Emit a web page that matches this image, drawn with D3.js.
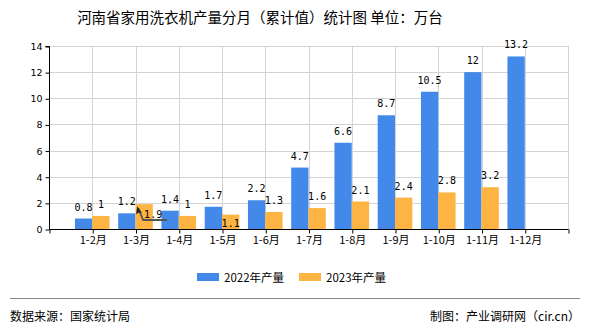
<!DOCTYPE html>
<html><head><meta charset="utf-8">
<script src="https://cdn.jsdelivr.net/npm/d3@7/dist/d3.min.js"></script>
<style>
html,body{margin:0;padding:0;background:#fff;}
text{font-family:"Noto Sans CJK SC","DejaVu Sans",sans-serif;}
text.val{font-family:"DejaVu Sans Mono",monospace;font-size:10px;}
</style></head>
<body>
<svg id="chart" width="590" height="330"></svg>
<script>
const categories = ["1-2月","1-3月","1-4月","1-5月","1-6月","1-7月","1-8月","1-9月","1-10月","1-11月","1-12月"];
const series2022 = [0.8,1.2,1.4,1.7,2.2,4.7,6.6,8.7,10.5,12,13.2];
const series2023 = [1,1.9,1,1.1,1.3,1.6,2.1,2.4,2.8,3.2,null];
const seriesNames = ["2022年产量","2023年产量"];
const colors = ["#4289ea","#fdb443"];
const yTicks = [0,2,4,6,8,10,12,14];
const title = "河南省家用洗衣机产量分月（累计值）统计图 单位：万台";
const source = "数据来源：国家统计局";
const credit = "制图：产业调研网（cir.cn）";

const svg = d3.select("#chart");
const pLeft = 49, pRight = 568, pTop = 46, pBottom = 229;

// positions: index 0 and 12 are empty slots at the ends
const slots = d3.range(categories.length + 2);
const x = d3.scalePoint().domain(slots).range([pLeft, pRight]);
const step = x.step();
const barW = step * 0.4;
const y = d3.scaleLinear().domain([0, 14]).range([pBottom, pTop]);

// title
svg.append("text").attr("x", 260).attr("y", 23).attr("text-anchor", "middle")
  .style("font-size", "14.5px").attr("fill", "#000").text(title);

// gridlines
const g = svg.append("g");
g.selectAll("line.hg").data(yTicks.filter(d => d > 0)).join("line")
  .attr("x1", pLeft).attr("x2", pRight)
  .attr("y1", d => Math.round(y(d)) + 0.5).attr("y2", d => Math.round(y(d)) + 0.5)
  .attr("stroke", "#d3d3d3").attr("stroke-width", 1);
g.selectAll("line.vg").data(slots.slice(1)).join("line")
  .attr("x1", d => Math.round(x(d)) + 0.5).attr("x2", d => Math.round(x(d)) + 0.5)
  .attr("y1", pTop).attr("y2", pBottom)
  .attr("stroke", "#d3d3d3").attr("stroke-width", 1);

// bars
const all = [series2022, series2023];
all.forEach((s, si) => {
  svg.append("g").selectAll("rect").data(s.map((v, i) => ({v, i})).filter(d => d.v != null)).join("rect")
    .attr("x", d => x(d.i + 1) - barW + si * barW)
    .attr("width", barW)
    .attr("y", d => y(d.v))
    .attr("height", d => y(0) - y(d.v))
    .attr("fill", colors[si]);
});

// axes
const yAxis = d3.axisLeft(y).tickValues(yTicks).tickSize(4).tickPadding(3);
const ya = svg.append("g").attr("transform", `translate(${pLeft + 0.5},0.5)`).call(yAxis);
ya.select(".domain").attr("stroke", "#000").attr("d", `M-4,${pTop}H0V${pBottom}`);
ya.selectAll(".tick line").attr("stroke", "#000");
ya.selectAll(".tick text").style("font-family", "DejaVu Sans").style("font-size", "9.5px").attr("fill", "#000");

const xAxis = d3.axisBottom(x).tickValues(slots).tickSize(4)
  .tickFormat(d => (d >= 1 && d <= categories.length) ? categories[d - 1] : "");
const xa = svg.append("g").attr("transform", `translate(0.5,${pBottom + 0.5})`).call(xAxis);
xa.select(".domain").attr("stroke", "#000").attr("d", `M${pLeft},0H${pRight}`);
xa.selectAll(".tick line").attr("stroke", "#000");
xa.selectAll(".tick text").style("font-size", "11px").attr("fill", "#000").attr("dy", "0.95em").attr("y", 4);

// value labels
const lbl = svg.append("g").attr("fill", "#000");
all.forEach((s, si) => {
  s.forEach((v, i) => {
    if (v == null) return;
    let cx = x(i + 1) - barW / 2 + si * barW;
    let ty = y(v) - 8;
    // labels displaced by the original chart's collision handling
    if (si === 1 && i === 3) ty = y(v) + 12;
    if (si === 1 && i === 1) {
      const lx = cx + 9, ly = y(v) + 14;
      svg.append("path")
        .attr("d", `M${lx + 14},${y(0) - 9}H${cx - 1}L${cx - 6},${y(v) + 4}`)
        .attr("fill", "none").attr("stroke", "#555").attr("stroke-width", 1.8);
      svg.append("path")
        .attr("d", `M${cx - 7},${y(v) + 2}l-1,8l3,-2l3,1z`)
        .attr("fill", "#222");
      lbl.append("text").attr("class", "val").attr("x", lx).attr("y", ly).attr("text-anchor", "middle").text(String(v));
      return;
    }
    lbl.append("text").attr("class", "val").attr("x", cx).attr("y", ty).attr("text-anchor", "middle").text(String(v));
  });
});

// legend
const leg = svg.append("g");
const legX = [197, 299];
seriesNames.forEach((n, i) => {
  leg.append("rect").attr("x", legX[i]).attr("y", 273).attr("width", 22).attr("height", 8).attr("fill", colors[i]);
  leg.append("text").attr("x", legX[i] + 27).attr("y", 281.5).style("font-size", "11.5px").attr("fill", "#000").text(n);
});

// footer
svg.append("line").attr("x1", 10).attr("x2", 580).attr("y1", 298.5).attr("y2", 298.5).attr("stroke", "#888").attr("stroke-width", 1);
svg.append("text").attr("x", 10).attr("y", 321).style("font-size", "12px").attr("fill", "#000").text(source);
svg.append("text").attr("x", 580).attr("y", 321).attr("text-anchor", "end").style("font-size", "12px").attr("fill", "#000").text(credit);
</script>
</body></html>
